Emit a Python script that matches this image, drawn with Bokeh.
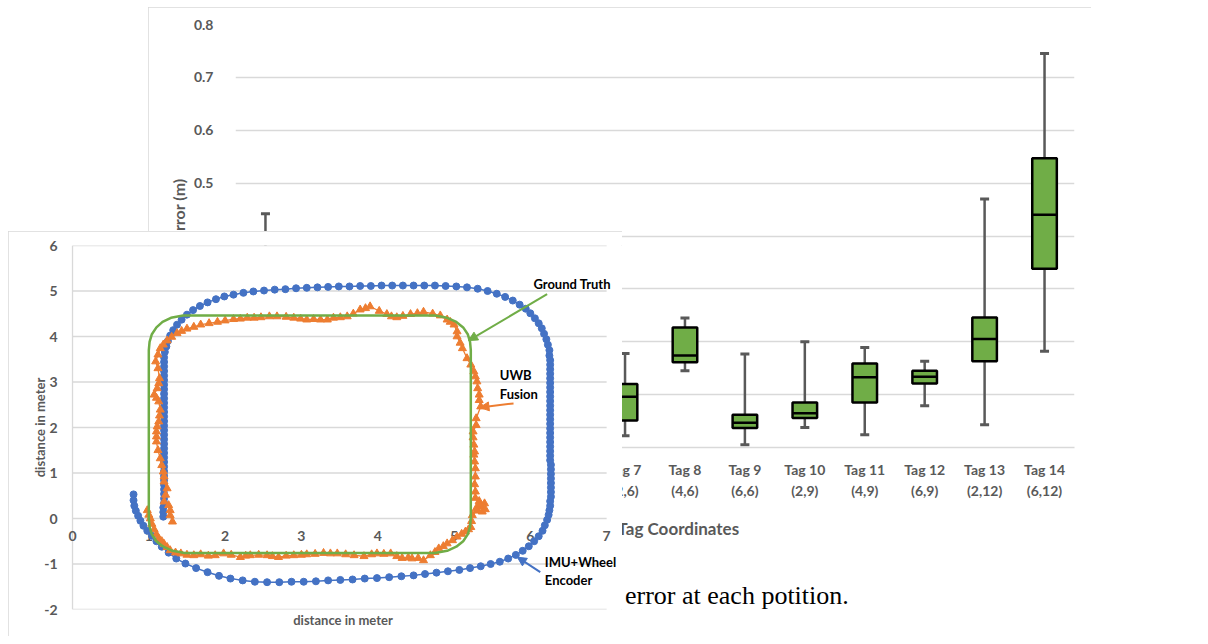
from bokeh.plotting import figure
from bokeh.models import Range1d, FactorRange, Label, Arrow, NormalHead, Div, Title, CategoricalAxis
from bokeh.layouts import column, row
from bokeh.embed import file_html
from bokeh.resources import INLINE
from bokeh.core.properties import value

FONT = "Lato"
GRAY = "#595959"
GRID = "#d9d9d9"

# ---------------- box chart data (error per tag) ----------------
tags = ["Tag 1", "Tag 2", "Tag 3", "Tag 4", "Tag 5", "Tag 6", "Tag 7",
        "Tag 8", "Tag 9", "Tag 10", "Tag 11", "Tag 12", "Tag 13", "Tag 14"]
tag_coords = ["(2,0)", "(4,0)", "(6,0)", "(2,3)", "(4,3)", "(6,3)", "(2,6)",
              "(4,6)", "(6,6)", "(2,9)", "(4,9)", "(6,9)", "(2,12)", "(6,12)"]
box_lower = [0.05, 0.03, 0.04, 0.02, 0.05, 0.03, 0.022, 0.145, 0.005, 0.038, 0.024, 0.079, 0.043, 0.182]
box_q1 = [0.12, 0.08, 0.10, 0.06, 0.11, 0.07, 0.051, 0.161, 0.037, 0.056, 0.085, 0.121, 0.163, 0.338]
box_median = [0.16, 0.11, 0.13, 0.09, 0.14, 0.10, 0.096, 0.174, 0.047, 0.065, 0.133, 0.134, 0.205, 0.440]
box_q3 = [0.22, 0.15, 0.18, 0.13, 0.17, 0.14, 0.120, 0.227, 0.062, 0.085, 0.159, 0.145, 0.246, 0.547]
box_upper = [0.442, 0.28, 0.30, 0.25, 0.26, 0.22, 0.178, 0.245, 0.177, 0.200, 0.189, 0.163, 0.470, 0.745]
box_yticks = [0.0, 0.1, 0.2, 0.3, 0.4, 0.5, 0.6, 0.7, 0.8]

# ---------------- trajectory chart data ----------------
traj_xticks = [0, 1, 2, 3, 4, 5, 6, 7]
traj_xlabels = ["0", "1", "2", "3", "4", "5", "6", "7"]
traj_yticks = [-2, -1, 0, 1, 2, 3, 4, 5, 6]
traj_ylabels = ["-2", "-1", "0", "1", "2", "3", "4", "5", "6"]

gt_x = [1.00, 1.00, 1.01, 1.04, 1.10, 1.18, 1.29, 1.45, 4.75, 4.91, 5.03, 5.12, 5.18, 5.21, 5.22,
        5.22, 5.21, 5.18, 5.12, 5.03, 4.91, 4.75, 1.47, 1.31, 1.19, 1.10, 1.04, 1.01, 1.00]
gt_y = [0.00, 3.70, 3.88, 4.05, 4.20, 4.32, 4.41, 4.46, 4.46, 4.41, 4.32, 4.20, 4.05, 3.88, 3.70,
        0.00, -0.18, -0.35, -0.50, -0.62, -0.71, -0.76, -0.76, -0.71, -0.62, -0.50, -0.35, -0.18, 0.00]

imu_x = [0.80, 0.80, 0.81, 0.83, 0.86, 0.89, 0.93, 0.98, 1.04, 1.10, 1.17, 1.26, 1.36, 1.48, 1.62, 1.77,
         1.92, 2.07, 2.23, 2.39, 2.55, 2.71, 2.87, 3.03, 3.19, 3.35, 3.51, 3.67, 3.83, 3.99, 4.15, 4.31,
         4.47, 4.62, 4.77, 4.92, 5.07, 5.21, 5.35, 5.48, 5.60, 5.71, 5.81, 5.90, 5.98, 6.05, 6.11, 6.16,
         6.19, 6.22,
         6.24, 6.25, 6.26, 6.26, 6.27, 6.27, 6.27, 6.27, 6.27, 6.27, 6.27, 6.27, 6.26, 6.26, 6.26, 6.26,
         6.26, 6.26, 6.26, 6.26, 6.26, 6.26, 6.26, 6.26, 6.26, 6.26, 6.26, 6.26, 6.26, 6.26, 6.26, 6.26,
         6.26, 6.26, 6.26, 6.25,
         6.25, 6.23, 6.21, 6.18, 6.15, 6.11, 6.06, 6.00, 5.94, 5.86, 5.77, 5.67, 5.56, 5.44, 5.31, 5.17,
         5.03, 4.89,
         4.75, 4.61, 4.47, 4.33, 4.19, 4.05, 3.91, 3.77, 3.63, 3.49, 3.35, 3.21, 3.07, 2.93, 2.79, 2.65,
         2.51, 2.37, 2.24, 2.11, 1.99, 1.88, 1.77, 1.67, 1.58, 1.50, 1.43, 1.37, 1.32, 1.28, 1.25, 1.23,
         1.21,
         1.20, 1.20, 1.20, 1.20, 1.20, 1.20, 1.20, 1.20, 1.20, 1.20, 1.20, 1.20, 1.20, 1.20, 1.20, 1.20,
         1.20, 1.20, 1.20, 1.20, 1.20, 1.20, 1.20, 1.20, 1.20, 1.20, 1.20, 1.20, 1.20, 1.20, 1.20, 1.20,
         1.20, 1.19, 1.19, 1.19]
imu_y = [0.53, 0.40, 0.28, 0.17, 0.06, -0.05, -0.16, -0.27, -0.38, -0.50, -0.62, -0.75, -0.88, -0.99, -1.09, -1.18,
         -1.26, -1.32, -1.36, -1.39, -1.40, -1.40, -1.39, -1.39, -1.38, -1.36, -1.35, -1.34, -1.32, -1.31, -1.29, -1.27,
         -1.25, -1.22, -1.19, -1.16, -1.13, -1.09, -1.05, -1.00, -0.95, -0.88, -0.80, -0.71, -0.61, -0.50, -0.39, -0.27,
         -0.15, -0.03,
         0.08, 0.18, 0.28, 0.38, 0.48, 0.58, 0.68, 0.78, 0.88, 0.98, 1.08, 1.18, 1.28, 1.38, 1.48, 1.58,
         1.68, 1.78, 1.88, 1.98, 2.08, 2.18, 2.28, 2.38, 2.48, 2.58, 2.68, 2.78, 2.88, 2.98, 3.08, 3.18,
         3.28, 3.38, 3.48, 3.58,
         3.70, 3.82, 3.94, 4.06, 4.18, 4.29, 4.40, 4.51, 4.61, 4.70, 4.79, 4.87, 4.94, 5.00, 5.05, 5.08,
         5.10, 5.11,
         5.12, 5.12, 5.12, 5.12, 5.12, 5.12, 5.11, 5.11, 5.10, 5.10, 5.09, 5.08, 5.07, 5.06, 5.04, 5.03,
         5.01, 4.99, 4.96, 4.92, 4.88, 4.82, 4.75, 4.67, 4.58, 4.48, 4.37, 4.26, 4.14, 4.02, 3.90, 3.78,
         3.66,
         3.54, 3.44, 3.34, 3.24, 3.14, 3.04, 2.94, 2.84, 2.74, 2.64, 2.54, 2.44, 2.34, 2.24, 2.14, 2.04,
         1.94, 1.84, 1.74, 1.64, 1.54, 1.44, 1.34, 1.24, 1.14, 1.04, 0.94, 0.84, 0.74, 0.64, 0.54, 0.44,
         0.34, 0.24, 0.14, 0.04]

uwb_x = [0.98, 1.00, 1.02, 1.04, 1.07, 1.10, 1.13, 1.17, 1.20, 1.24, 1.28, 1.35, 1.42, 1.50, 1.59, 1.68,
         1.78, 1.87, 1.98, 2.08, 2.20, 2.27, 2.33, 2.44, 2.55, 2.62, 2.70, 2.80, 2.90, 3.00, 3.07, 3.18,
         3.29, 3.38, 3.47, 3.58, 3.69, 3.82, 3.92, 3.99, 4.08, 4.17, 4.25, 4.32, 4.40, 4.45, 4.53, 4.60,
         4.69, 4.75, 4.80, 4.86, 4.91, 4.98, 5.04, 5.10, 5.15, 5.19, 5.22, 5.23, 5.24, 5.30, 5.36, 5.40,
         5.33, 5.29, 5.37, 5.41, 5.34, 5.28, 5.28, 5.27, 5.28, 5.28, 5.27, 5.26, 5.27, 5.26, 5.25, 5.25,
         5.29, 5.29, 5.35, 5.33, 5.33, 5.31, 5.30, 5.28, 5.26, 5.22, 5.17, 5.11, 5.08, 5.04, 5.04, 5.00,
         4.95, 4.91, 4.82, 4.72, 4.60, 4.52, 4.43, 4.33, 4.25, 4.18, 4.12, 4.02, 3.90, 3.84, 3.77, 3.68,
         3.60, 3.51, 3.42, 3.34, 3.25, 3.16, 3.07, 2.99, 2.90, 2.80, 2.68, 2.58, 2.47, 2.38, 2.29, 2.20,
         2.11, 2.00, 1.90, 1.79, 1.68, 1.59, 1.50, 1.43, 1.37, 1.30, 1.24, 1.19, 1.15, 1.12, 1.09, 1.12,
         1.14, 1.13, 1.11, 1.07, 1.10, 1.13, 1.15, 1.14, 1.13, 1.11, 1.10, 1.10, 1.10, 1.12, 1.15, 1.17,
         1.19, 1.20, 1.20, 1.24, 1.22, 1.20, 1.26, 1.28, 1.28, 1.31]
uwb_y = [0.18, 0.08, 0.00, -0.12, -0.24, -0.35, -0.44, -0.50, -0.56, -0.63, -0.70, -0.75, -0.77, -0.80, -0.81, -0.79,
         -0.82, -0.81, -0.77, -0.80, -0.85, -0.82, -0.81, -0.80, -0.81, -0.83, -0.85, -0.82, -0.81, -0.80, -0.79, -0.78,
         -0.76, -0.77, -0.77, -0.79, -0.81, -0.83, -0.79, -0.77, -0.78, -0.77, -0.83, -0.87, -0.86, -0.88, -0.87, -0.92,
         -0.81, -0.74, -0.66, -0.61, -0.55, -0.48, -0.40, -0.34, -0.29, -0.24, -0.19, -0.06, 0.07, 0.17, 0.26, 0.33,
         0.38, 0.22, 0.15, 0.20, 0.30, 0.45, 0.59, 0.75, 0.92, 1.10, 1.25, 1.40, 1.47, 1.62, 1.78, 1.91,
         2.05, 2.20, 2.46, 2.60, 2.72, 2.86, 3.01, 3.12, 3.23, 3.38, 3.52, 3.74, 3.86, 4.00, 4.11, 4.26,
         4.32, 4.37, 4.46, 4.50, 4.54, 4.51, 4.49, 4.45, 4.42, 4.44, 4.49, 4.56, 4.66, 4.62, 4.59, 4.50,
         4.44, 4.42, 4.41, 4.37, 4.37, 4.38, 4.37, 4.39, 4.41, 4.43, 4.44, 4.44, 4.42, 4.41, 4.41, 4.39,
         4.38, 4.35, 4.32, 4.29, 4.26, 4.21, 4.17, 4.12, 4.07, 3.99, 3.91, 3.82, 3.74, 3.60, 3.45, 3.30,
         3.08, 2.97, 2.86, 2.72, 2.65, 2.57, 2.39, 2.26, 2.13, 2.02, 1.91, 1.80, 1.69, 1.50, 1.32, 1.17,
         1.03, 0.92, 0.81, 0.66, 0.52, 0.37, 0.29, 0.18, 0.07, -0.07]

GREEN = "#70ad47"
ORANGE = "#ed7d31"
BLUE = "#4472c4"

# ================= box chart (background) =================
bp = figure(width=943, height=548, x_range=FactorRange(factors=tags),
            y_range=Range1d(0, 0.8), output_backend="svg", toolbar_location=None,
            min_border_left=87, min_border_right=17, min_border_top=17, min_border_bottom=108)
bp.extra_x_ranges = {"coords": FactorRange(factors=tag_coords)}
bp.outline_line_color = None
bp.xgrid.visible = False
bp.ygrid.grid_line_color = GRID
bp.ygrid.grid_line_width = 1.3
bp.yaxis.ticker = box_yticks
bp.yaxis.axis_line_color = None
bp.yaxis.major_tick_line_color = None
bp.yaxis.minor_tick_line_color = None
bp.yaxis.major_label_standoff = 16
bp.yaxis.major_label_text_font = FONT
bp.yaxis.major_label_text_font_style = "bold"
bp.yaxis.major_label_text_font_size = "14px"
bp.yaxis.major_label_text_color = GRAY
bp.xaxis.axis_line_color = GRID
bp.xaxis.axis_line_width = 1.3
bp.xaxis.major_tick_line_color = None
bp.xaxis.minor_tick_line_color = None
bp.xaxis.major_label_text_font = FONT
bp.xaxis.major_label_text_font_style = "bold"
bp.xaxis.major_label_text_font_size = "14px"
bp.xaxis.major_label_text_color = GRAY
bp.xaxis.major_label_standoff = 7

coord_axis = CategoricalAxis(x_range_name="coords",
                             axis_line_color=None, major_tick_line_color=None,
                             minor_tick_line_color=None, major_label_standoff=-5,
                             major_label_text_font=FONT, major_label_text_font_style="bold",
                             major_label_text_font_size="14px", major_label_text_color=GRAY)
bp.add_layout(coord_axis, "below")
bp.add_layout(Title(text="Tag Coordinates", align="left", offset=382, standoff=29,
                    text_font=FONT, text_font_style="bold", text_font_size="17px",
                    text_color=GRAY), "below")
bp.add_layout(Title(text="Error (m)", align="right", offset=154, standoff=6,
                    text_font=FONT, text_font_style="bold", text_font_size="16px",
                    text_color=GRAY), "left")
bp.styles = {"outline": "1px solid #d9d9d9", "outline-offset": "-1px"}

bp.segment(x0=tags, y0=box_q3, x1=tags, y1=box_upper, line_color=GRAY, line_width=2.5)
bp.segment(x0=tags, y0=box_lower, x1=tags, y1=box_q1, line_color=GRAY, line_width=2.5)
bp.scatter(x=tags, y=box_upper, marker="dash", size=9, line_color=GRAY, line_width=3)
bp.scatter(x=tags, y=box_lower, marker="dash", size=9, line_color=GRAY, line_width=3)
bp.vbar(x=tags, bottom=box_q1, top=box_q3, width=0.41, fill_color=GREEN,
        line_color="black", line_width=2.5)
bp.scatter(x=tags, y=box_median, marker="dash", size=25, line_color="black", line_width=2.5)

# ================= trajectory chart (overlay) =================
op = figure(width=614, height=405, x_range=Range1d(-0.118, 7.208), y_range=Range1d(-2, 6),
            output_backend="svg", toolbar_location=None, x_axis_location=None,
            min_border_left=55, min_border_right=0, min_border_top=14, min_border_bottom=27)
op.background_fill_color = "white"
op.border_fill_color = "white"
op.outline_line_color = None
op.grid.visible = False
op.yaxis.ticker = traj_yticks
op.yaxis.major_label_overrides = dict(zip(traj_yticks, traj_ylabels))
op.yaxis.axis_line_color = None
op.yaxis.major_tick_line_color = None
op.yaxis.minor_tick_line_color = None
op.yaxis.major_label_text_font = FONT
op.yaxis.major_label_text_font_style = "bold"
op.yaxis.major_label_text_font_size = "14px"
op.yaxis.major_label_text_color = GRAY
op.yaxis.major_label_standoff = 0
op.yaxis.axis_label = "distance in meter"
op.yaxis.axis_label_standoff = -7
op.yaxis.axis_label_text_font = FONT
op.yaxis.axis_label_text_font_style = "bold"
op.yaxis.axis_label_text_font_size = "13px"
op.yaxis.axis_label_text_color = GRAY
op.add_layout(Title(text="distance in meter", align="center", vertical_align="top", standoff=4,
                    text_font=FONT, text_font_style="bold", text_font_size="13px",
                    text_color=GRAY), "below")
op.styles = {"outline": "1px solid #d9d9d9", "outline-offset": "-1px"}

# gridlines and the vertical axis line, bounded to the tick range
op.segment(x0=traj_xticks[0], y0=traj_yticks, x1=traj_xticks[-1], y1=traj_yticks,
           line_color=GRID, line_width=1.3)
op.segment(x0=traj_xticks[0], y0=traj_yticks[0], x1=traj_xticks[0], y1=traj_yticks[-1],
           line_color=GRID, line_width=1.3)
# x tick labels sit on the y = 0 line
op.text(x=traj_xticks, y=0, text=traj_xlabels, y_offset=12, text_align="center",
        text_baseline="top", text_font=value(FONT), text_font_style="bold",
        text_font_size="14px", text_color=GRAY)

op.line(imu_x, imu_y, line_color=BLUE, line_width=1.5)
op.scatter(imu_x, imu_y, marker="circle", size=7, fill_color=BLUE, line_color=BLUE)
op.line(uwb_x, uwb_y, line_color=ORANGE, line_width=1.3)
op.scatter(uwb_x, uwb_y, marker="triangle", size=8, fill_color=ORANGE, line_color=ORANGE)
op.line(gt_x, gt_y, line_color=GREEN, line_width=2.5)


def note(x, y, t):
    op.add_layout(Label(x=x, y=y, text=t, text_align="left", text_baseline="middle",
                        text_font=FONT, text_font_style="bold", text_font_size="13px",
                        text_color="black"))


note(6.04, 5.16, "Ground Truth")
note(5.60, 3.16, "UWB")
note(5.60, 2.74, "Fusion")
note(6.19, -0.96, "IMU+Wheel")
note(6.19, -1.36, "Encoder")

for (xs, ys, xe, ye, c) in [(6.22, 4.93, 5.19, 3.91, GREEN),
                            (5.78, 2.53, 5.34, 2.44, ORANGE),
                            (6.13, -1.18, 5.83, -0.85, BLUE)]:
    op.add_layout(Arrow(end=NormalHead(size=9, fill_color=c, line_color=c),
                        x_start=xs, y_start=ys, x_end=xe, y_end=ye,
                        line_color=c, line_width=2))

caption = Div(text="error at each potition.", width=320, height=32, margin=(352, 0, 0, 3),
              styles={"font-family": "Liberation Serif", "font-size": "26px",
                      "color": "black", "white-space": "nowrap", "line-height": "1"})

bp.margin = (7, 0, 0, 148)
layout = column(bp, row(op, caption, margin=(-324, 0, 0, 8)))

open("out.html", "w").write(file_html(layout, INLINE))
